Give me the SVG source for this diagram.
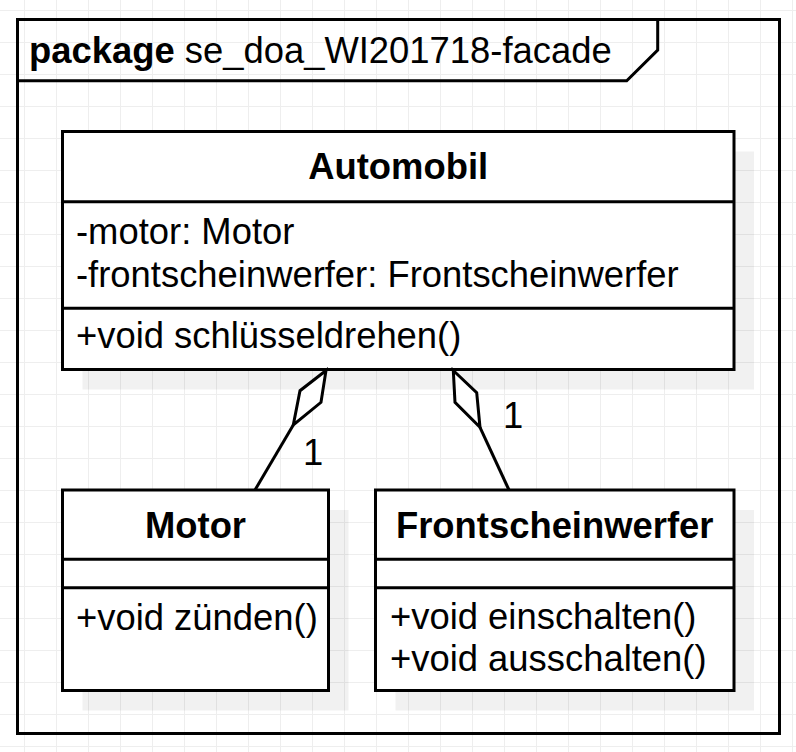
<svg xmlns="http://www.w3.org/2000/svg" width="796" height="752" viewBox="0 0 796 752">
  <style>
    .box { fill: #ffffff; stroke: #000000; stroke-width: 3; }
    .shadow { fill: #000000; fill-opacity: 0.055; stroke: none; }
    .sep { stroke: #000000; stroke-width: 3; fill: none; }
    .frame { fill: none; stroke: #000000; stroke-width: 3; }
    .t { font-family: "Liberation Sans", Arial, Helvetica, sans-serif; font-size: 36.4px; fill: #000000; }
    .b { font-weight: bold; }
    .c { text-anchor: middle; }
    .edge { fill: none; stroke: #000000; stroke-width: 3; }
    .dia { fill: #ffffff; stroke: #000000; stroke-width: 3; stroke-linejoin: miter; }
  </style>
  <defs>
    <pattern id="grid" patternUnits="userSpaceOnUse" x="24" y="10" width="32" height="32">
      <path d="M0 0.5 H32 M0.5 0 V32" stroke="#eeeeee" stroke-width="1" fill="none"/>
    </pattern>
  </defs>
  <rect x="0" y="0" width="796" height="752" fill="#ffffff"/>
  <rect x="0" y="0" width="796" height="752" fill="url(#grid)"/>

  <g id="package">
    <rect class="frame" x="17.5" y="19.5" width="762" height="714"/>
    <path class="frame" d="M17.5 80.7 H626.7 L657.7 50 V19.5"/>
    <text class="t" x="29" y="62.6"><tspan class="b">package</tspan> se_doa_WI201718-facade</text>
  </g>

  <g id="Automobil">
    <rect class="shadow" x="82.5" y="151.5" width="671.5" height="238"/>
    <rect class="box" x="62.5" y="131.5" width="671.5" height="238"/>
    <line class="sep" x1="62.5" y1="201.7" x2="734" y2="201.7"/>
    <line class="sep" x1="62.5" y1="308.3" x2="734" y2="308.3"/>
    <text class="t b c" x="398.2" y="179.3">Automobil</text>
    <text class="t" x="76" y="243.5">-motor: Motor</text>
    <text class="t" x="76" y="286.5">-frontscheinwerfer: Frontscheinwerfer</text>
    <text class="t" x="76" y="348">+void schlüsseldrehen()</text>
  </g>

  <g id="Motor">
    <rect class="shadow" x="82.5" y="510" width="266" height="200.5"/>
    <rect class="box" x="62.5" y="490" width="266" height="200.5"/>
    <line class="sep" x1="62.5" y1="559.3" x2="328.5" y2="559.3"/>
    <line class="sep" x1="62.5" y1="587.7" x2="328.5" y2="587.7"/>
    <text class="t b c" x="195.5" y="538">Motor</text>
    <text class="t" x="76" y="630">+void zünden()</text>
  </g>

  <g id="Frontscheinwerfer">
    <rect class="shadow" x="395.5" y="510" width="358.5" height="200.5"/>
    <rect class="box" x="375.5" y="490" width="358.5" height="200.5"/>
    <line class="sep" x1="375.5" y1="559.3" x2="734" y2="559.3"/>
    <line class="sep" x1="375.5" y1="587.7" x2="734" y2="587.7"/>
    <text class="t b c" x="554.7" y="538">Frontscheinwerfer</text>
    <text class="t" x="390" y="629">+void einschalten()</text>
    <text class="t" x="390" y="671">+void ausschalten()</text>
  </g>

  <g id="connectors">
    <g id="edge-motor">
      <line class="edge" x1="293.3" y1="425" x2="255" y2="490"/>
      <path class="dia" d="M326 370.5 L300 390.7 L293.3 425 L321 402.3 Z"/>
      <text class="t" x="303" y="465">1</text>
    </g>
    <g id="edge-frontscheinwerfer">
      <line class="edge" x1="480" y1="427.3" x2="509" y2="490"/>
      <path class="dia" d="M453.3 370.5 L476.7 392.7 L480 427.3 L455 402.3 Z"/>
      <text class="t" x="503" y="428">1</text>
    </g>
  </g>
</svg>
